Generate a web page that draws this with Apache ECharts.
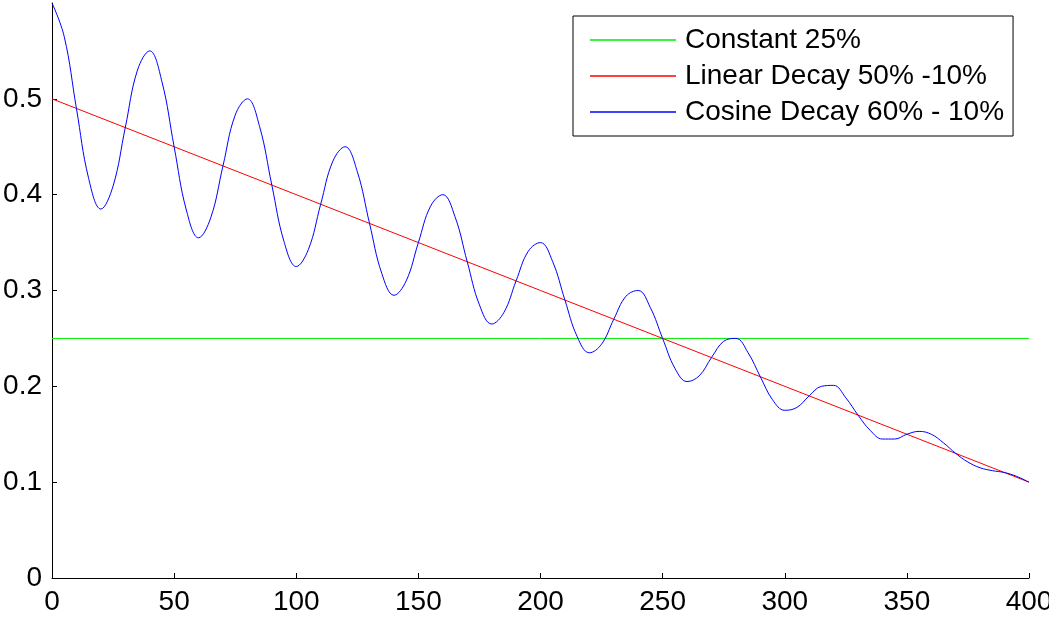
<!DOCTYPE html>
<html>
<head>
<meta charset="utf-8">
<script src="https://cdn.jsdelivr.net/npm/echarts@6/dist/echarts.min.js"></script>
<style>
html,body{margin:0;padding:0;background:#fff;}
#chart{width:1049px;height:619px;}
</style>
</head>
<body>
<div id="chart"></div>
<script>
const seriesNames = ['Constant 25%', 'Linear Decay 50% -10%', 'Cosine Decay 60% - 10%'];
const constantX = [0, 400];
const constantY = [0.25, 0.25];
const linearX = [0, 400];
const linearY = [0.5, 0.1];
const cosineX = [0,5,10,15,20,25,30,35,40,45,50,55,60,65,70,75,80,85,90,95,100,105,110,115,120,125,130,135,140,145,150,155,160,165,170,175,180,185,190,195,200,205,210,215,220,225,230,235,240,245,250,255,260,265,270,275,280,285,290,295,300,305,310,315,320,325,330,335,340,345,350,355,360,365,370,375,380,385,390,395,400];
const cosineY = [0.6,0.565,0.49,0.417,0.385,0.409,0.47,0.53,0.55,0.518,0.45,0.384,0.355,0.376,0.43,0.483,0.5,0.471,0.41,0.351,0.325,0.343,0.39,0.435,0.45,0.424,0.37,0.318,0.295,0.31,0.35,0.388,0.4,0.377,0.33,0.285,0.265,0.277,0.31,0.341,0.35,0.33,0.29,0.252,0.235,0.244,0.27,0.294,0.3,0.282,0.25,0.219,0.205,0.211,0.23,0.247,0.25,0.235,0.21,0.186,0.175,0.178,0.19,0.2,0.201,0.188,0.17,0.154,0.145,0.145,0.15,0.153,0.15,0.141,0.13,0.121,0.115,0.112,0.11,0.106,0.1];
const xTicks = {min: 0, max: 400, interval: 50};
const yTicks = {min: 0, max: 0.6, interval: 0.1};

function pairs(xs, ys){ return xs.map((x, i) => [x, ys[i]]); }

const chart = echarts.init(document.getElementById('chart'), null, {renderer: 'canvas'});
const font = 'Liberation Sans, Arial, sans-serif';
chart.setOption({
  animation: false,
  backgroundColor: '#fff',
  grid: {left: 52, right: 20, top: 3, bottom: 41, containLabel: false, outerBoundsMode: 'none'},
  legend: {
    orient: 'vertical',
    left: 573, top: 16,
    data: seriesNames,
    borderColor: '#000', borderWidth: 1, borderRadius: 0,
    padding: [10, 9, 10, 17],
    itemWidth: 86, itemHeight: 1.5, itemGap: 8,
    icon: 'rect',
    textStyle: {fontFamily: font, fontSize: 28, color: '#000', padding: [0, 0, 0, 4], lineHeight: 28}
  },
  xAxis: {
    type: 'value', min: xTicks.min, max: xTicks.max, interval: xTicks.interval,
    splitLine: {show: false},
    axisLine: {show: true, onZero: false, lineStyle: {color: '#000', width: 1}},
    axisTick: {show: true, inside: true, length: 5, lineStyle: {color: '#000'}},
    axisLabel: {fontFamily: font, fontSize: 28, color: '#000', margin: 10}
  },
  yAxis: {
    type: 'value', min: yTicks.min, max: yTicks.max, interval: yTicks.interval,
    splitLine: {show: false},
    axisLine: {show: true, onZero: false, lineStyle: {color: '#000', width: 1}},
    axisTick: {show: true, inside: true, length: 5, lineStyle: {color: '#000'}},
    axisLabel: {fontFamily: font, fontSize: 28, color: '#000', margin: 10, showMaxLabel: false}
  },
  series: [
    {name: seriesNames[0], type: 'line', data: pairs(constantX, constantY), showSymbol: false, symbol: 'none',
     lineStyle: {color: '#00ee00', width: 1}, itemStyle: {color: '#00ee00'}},
    {name: seriesNames[1], type: 'line', data: pairs(linearX, linearY), showSymbol: false, symbol: 'none',
     lineStyle: {color: '#ff0000', width: 1}, itemStyle: {color: '#ff0000'}},
    {name: seriesNames[2], type: 'line', data: pairs(cosineX, cosineY), showSymbol: false, symbol: 'none', smooth: 0.4,
     lineStyle: {color: '#0000ff', width: 1}, itemStyle: {color: '#0000ff'}}
  ]
});
</script>
</body>
</html>
